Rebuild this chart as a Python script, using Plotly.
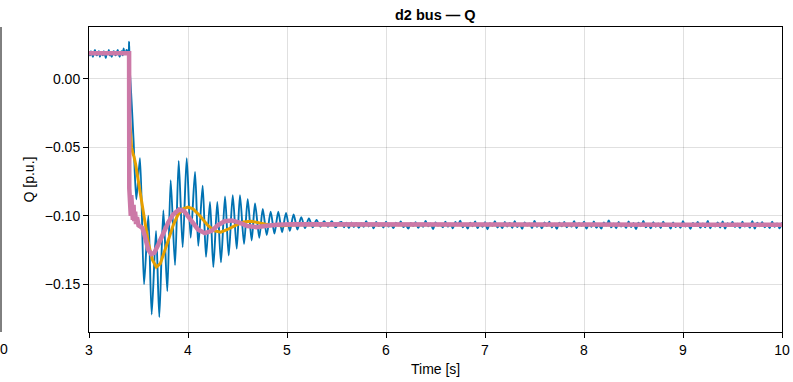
import plotly.graph_objects as go

# ---------------- data ----------------
# blue: pre-fault noise, sampled every 0.01 s from 3.00 s
blue_pre_t0, blue_pre_dt = 3.00, 0.01
blue_pre = [0.019, 0.017, 0.020, 0.018, 0.016, 0.019, 0.021, 0.018, 0.017, 0.019,
            0.020, 0.016, 0.018, 0.019, 0.017, 0.020, 0.018, 0.015, 0.019, 0.018,
            0.021, 0.017, 0.018, 0.016, 0.019, 0.020, 0.018, 0.017, 0.019, 0.021,
            0.018, 0.016, 0.019, 0.020, 0.017, 0.022, 0.018, 0.019, 0.021, 0.020, 0.019]

# blue: transient (peaks / troughs)
blue_osc_t = [3.405, 3.410, 3.425, 3.450, 3.478, 3.515, 3.556, 3.599, 3.633, 3.677,
              3.710, 3.751, 3.791, 3.825, 3.869, 3.906, 3.946, 3.987, 4.027, 4.071,
              4.104, 4.148, 4.182, 4.222, 4.256, 4.296, 4.333, 4.374, 4.411, 4.452,
              4.492, 4.525, 4.566, 4.603, 4.643, 4.677, 4.720, 4.755, 4.795, 4.835,
              4.873, 4.912, 4.950, 4.990, 5.028, 5.067, 5.105, 5.144, 5.182, 5.221,
              5.260, 5.298, 5.337, 5.375, 5.414, 5.452, 5.491, 5.530]
blue_osc_v = [0.027, 0.010, -0.010, -0.045, -0.088, -0.058, -0.150, -0.100, -0.172, -0.111,
              -0.174, -0.096, -0.155, -0.074, -0.136, -0.060, -0.123, -0.058, -0.116, -0.068,
              -0.122, -0.078, -0.130, -0.090, -0.1375, -0.090, -0.134, -0.086, -0.129, -0.085,
              -0.124, -0.085, -0.1205, -0.088, -0.118, -0.091, -0.116, -0.095, -0.114, -0.097,
              -0.113, -0.097, -0.112, -0.098, -0.111, -0.099, -0.110, -0.101, -0.109, -0.102,
              -0.1085, -0.103, -0.108, -0.104, -0.108, -0.104, -0.1085, -0.105]

# blue: post-transient noise, sampled every 0.025 s from 5.55 s
blue_post_t0, blue_post_dt = 5.55, 0.025
blue_post = [
    -0.1045, -0.1085, -0.1050, -0.1090, -0.1048, -0.1082, -0.1052, -0.1088, -0.1055, -0.1080,
    -0.1040, -0.1078, -0.1058, -0.1092, -0.1046, -0.1075, -0.1060, -0.1086, -0.1043, -0.1079,
    -0.1062, -0.1090, -0.1050, -0.1070, -0.1041, -0.1083, -0.1066, -0.1094, -0.1053, -0.1074,
    -0.1047, -0.1088, -0.1060, -0.1080, -0.1038, -0.1077, -0.1056, -0.1097, -0.1049, -0.1072,
    -0.1064, -0.1085, -0.1044, -0.1079, -0.1058, -0.1091, -0.1046, -0.1070, -0.1036, -0.1084,
    -0.1061, -0.1093, -0.1050, -0.1076, -0.1042, -0.1089, -0.1059, -0.1081, -0.1047, -0.1098,
    -0.1055, -0.1073, -0.1039, -0.1086, -0.1063, -0.1090, -0.1045, -0.1078, -0.1052, -0.1087,
    -0.1040, -0.1082, -0.1060, -0.1095, -0.1048, -0.1071, -0.1057, -0.1089, -0.1037, -0.1080,
    -0.1062, -0.1092, -0.1049, -0.1075, -0.1043, -0.1086, -0.1058, -0.1096, -0.1051, -0.1077,
    -0.1046, -0.1084, -0.1061, -0.1079, -0.1039, -0.1090, -0.1054, -0.1074, -0.1044, -0.1093,
    -0.1059, -0.1081, -0.1041, -0.1087, -0.1065, -0.1094, -0.1048, -0.1072, -0.1035, -0.1085,
    -0.1057, -0.1091, -0.1046, -0.1078, -0.1060, -0.1088, -0.1042, -0.1083, -0.1053, -0.1097,
    -0.1050, -0.1076, -0.1038, -0.1085, -0.1062, -0.1092, -0.1047, -0.1080, -0.1056, -0.1089,
    -0.1043, -0.1074, -0.1059, -0.1093, -0.1049, -0.1082, -0.1061, -0.1087, -0.1040, -0.1079,
    -0.1063, -0.1095, -0.1052, -0.1073, -0.1045, -0.1088, -0.1057, -0.1084, -0.1037, -0.1091,
    -0.1060, -0.1078, -0.1048, -0.1086, -0.1042, -0.1093, -0.1055, -0.1075, -0.1046, -0.1082,
    -0.1058, -0.1090, -0.1044, -0.1079, -0.1063, -0.1087, -0.1039, -0.1094, -0.1051, -0.1076,
    -0.1047, -0.1085, -0.1061, -0.1089, -0.1043, -0.1081, -0.1056, -0.1092, -0.1049]

# orange series
orange_t = [3.00, 3.405, 3.41, 3.43, 3.445, 3.455, 3.47, 3.50, 3.55, 3.60,
            3.64, 3.68, 3.72, 3.76, 3.80, 3.85, 3.90, 3.95, 4.00, 4.05,
            4.12, 4.20, 4.27, 4.33, 4.40, 4.48, 4.56, 4.64, 4.72, 4.82,
            4.95, 5.10, 6.0, 7.0, 8.0, 9.0, 10.0]
orange_v = [0.0185, 0.0185, -0.030, -0.050, -0.055, -0.057, -0.062, -0.076, -0.099, -0.120,
            -0.132, -0.1375, -0.135, -0.127, -0.118, -0.107, -0.099, -0.095, -0.0937, -0.095,
            -0.100, -0.107, -0.111, -0.112, -0.110, -0.107, -0.1045, -0.104, -0.1052, -0.1068,
            -0.1072, -0.1066, -0.1065, -0.1065, -0.1065, -0.1065, -0.1065]

# pink series
pink_t = [3.00, 3.405, 3.407, 3.412, 3.417, 3.422, 3.427, 3.432, 3.437, 3.443,
          3.450, 3.458, 3.466, 3.475, 3.485, 3.50, 3.52, 3.54, 3.56, 3.58,
          3.60, 3.63, 3.66, 3.70, 3.75, 3.80, 3.85, 3.91, 3.96, 4.00,
          4.05, 4.10, 4.17, 4.24, 4.30, 4.37, 4.44, 4.52, 4.60, 4.69,
          4.78, 4.90, 5.05, 6.0, 7.0, 8.0, 9.0, 10.0]
pink_v = [0.0185, 0.0185, -0.080, -0.098, -0.081, -0.100, -0.085, -0.101, -0.088, -0.103,
          -0.092, -0.104, -0.097, -0.106, -0.101, -0.107, -0.108, -0.109, -0.114, -0.120,
          -0.125, -0.128, -0.127, -0.121, -0.112, -0.105, -0.099, -0.0955, -0.0965, -0.100,
          -0.105, -0.110, -0.1127, -0.111, -0.107, -0.104, -0.1034, -0.105, -0.1075, -0.1083,
          -0.1075, -0.1065, -0.1062, -0.1065, -0.1066, -0.1064, -0.1066, -0.1065]

x_ticks = [3, 4, 5, 6, 7, 8, 9, 10]
y_ticks = [0.0, -0.05, -0.10, -0.15]
y_ticktext = ["0.00", "\u22120.05", "\u22120.10", "\u22120.15"]

# ---------------- assemble blue ----------------
blue_t = [blue_pre_t0 + blue_pre_dt * i for i in range(len(blue_pre))] + blue_osc_t + \
         [blue_post_t0 + blue_post_dt * i for i in range(len(blue_post))]
blue_v = blue_pre + blue_osc_v + blue_post

FONT = "Liberation Sans, Arial, sans-serif"
fig = go.Figure()
fig.add_trace(go.Scatter(x=blue_t, y=blue_v, mode="lines",
                         line=dict(color="#0072B2", width=1.9, shape="spline", smoothing=0.8),
                         showlegend=False))
fig.add_trace(go.Scatter(x=orange_t, y=orange_v, mode="lines",
                         line=dict(color="#E69F00", width=3), showlegend=False))
fig.add_trace(go.Scatter(x=pink_t, y=pink_v, mode="lines",
                         line=dict(color="#CC79A7", width=4.5), showlegend=False))

axis_common = dict(showline=True, mirror=True, linecolor="#000000", linewidth=1,
                   showgrid=True, gridcolor="rgba(0,0,0,0.12)", gridwidth=1,
                   ticks="outside", ticklen=5, tickcolor="#000000", tickwidth=1,
                   zeroline=False, automargin=False,
                   tickfont=dict(family=FONT, size=14, color="#000000"))

fig.update_xaxes(range=[3, 10], tickvals=x_ticks, ticktext=[str(v) for v in x_ticks], **axis_common)
fig.update_yaxes(range=[-0.1848, 0.0377], tickvals=y_ticks, ticktext=y_ticktext, **axis_common)

px_w = 793 - 89 - 11
fig.update_layout(
    width=793, height=382,
    margin=dict(l=89, r=11, t=27, b=50, autoexpand=False),
    paper_bgcolor="white", plot_bgcolor="white",
    font=dict(family=FONT, size=14, color="#000000"),
    annotations=[
        dict(text="<b>d2 bus \u2014 Q</b>", x=0.5, y=1, xref="paper", yref="paper",
             xanchor="center", yanchor="middle", yshift=12, showarrow=False,
             font=dict(family=FONT, size=14.5, color="#000000")),
        dict(text="Time [s]", x=0.5, y=0, xref="paper", yref="paper",
             xanchor="center", yanchor="middle", yshift=-37, showarrow=False,
             font=dict(family=FONT, size=14, color="#000000")),
        dict(text="Q [p.u.]", x=(28 - 89) / px_w, y=0.5, xref="paper", yref="paper",
             xanchor="center", yanchor="middle", textangle=-90, showarrow=False,
             font=dict(family=FONT, size=14, color="#000000")),
        dict(text="0", x=(3.5 - 89) / px_w, y=0, xref="paper", yref="paper",
             xanchor="center", yanchor="middle", yshift=-17, showarrow=False,
             font=dict(family=FONT, size=14, color="#000000")),
    ],
    shapes=[
        dict(type="line", xref="paper", yref="paper", x0=(1 - 89) / px_w, x1=(1 - 89) / px_w,
             y0=0, y1=1, line=dict(color="#000000", width=1)),
    ],
)

fig.write_html("out.html")
